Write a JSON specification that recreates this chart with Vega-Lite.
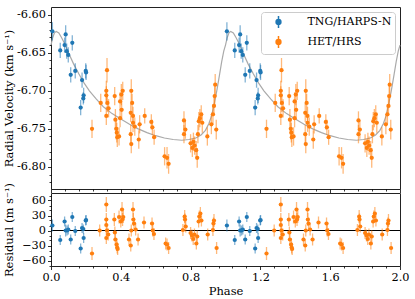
{
  "$schema": "https://vega.github.io/schema/vega-lite/v6.json",
  "padding": {"left": 3, "top": 6, "right": 4, "bottom": 0},
  "background": "white",
  "config": {
    "font": "DejaVu Serif",
    "view": {"stroke": "#222222", "strokeWidth": 1},
    "axis": {"grid": false, "domain": false, "tickColor": "#000000", "labelColor": "#000000", "titleColor": "#000000", "labelFont": "DejaVu Serif", "titleFont": "DejaVu Serif", "labelFontSize": 11.3, "titleFontSize": 11.5, "titleFontWeight": "normal", "tickSize": 3.5, "tickWidth": 0.8, "labelPadding": 2, "labelOverlap": false, "labelFlush": false}
  },
  "datasets": {
    "curve": [
      {"p":0.000,"v":-6.640},{"p":0.010,"v":-6.630},{"p":0.020,"v":-6.624},{"p":0.030,"v":-6.622},{"p":0.045,"v":-6.624},{"p":0.060,"v":-6.630},{"p":0.080,"v":-6.639},{"p":0.100,"v":-6.650},{"p":0.130,"v":-6.665},{"p":0.160,"v":-6.678},{"p":0.190,"v":-6.690},{"p":0.220,"v":-6.700},{"p":0.260,"v":-6.711},{"p":0.300,"v":-6.721},{"p":0.350,"v":-6.730},{"p":0.400,"v":-6.737},{"p":0.450,"v":-6.744},{"p":0.500,"v":-6.750},{"p":0.550,"v":-6.755},{"p":0.600,"v":-6.759},{"p":0.650,"v":-6.762},{"p":0.700,"v":-6.764},{"p":0.750,"v":-6.765},{"p":0.790,"v":-6.764},{"p":0.830,"v":-6.762},{"p":0.860,"v":-6.758},{"p":0.885,"v":-6.752},{"p":0.905,"v":-6.743},{"p":0.920,"v":-6.733},{"p":0.935,"v":-6.718},{"p":0.950,"v":-6.700},{"p":0.965,"v":-6.680},{"p":0.978,"v":-6.662},{"p":0.990,"v":-6.648},
      {"p":1.000,"v":-6.640},{"p":1.010,"v":-6.630},{"p":1.020,"v":-6.624},{"p":1.030,"v":-6.622},{"p":1.045,"v":-6.624},{"p":1.060,"v":-6.630},{"p":1.080,"v":-6.639},{"p":1.100,"v":-6.650},{"p":1.130,"v":-6.665},{"p":1.160,"v":-6.678},{"p":1.190,"v":-6.690},{"p":1.220,"v":-6.700},{"p":1.260,"v":-6.711},{"p":1.300,"v":-6.721},{"p":1.350,"v":-6.730},{"p":1.400,"v":-6.737},{"p":1.450,"v":-6.744},{"p":1.500,"v":-6.750},{"p":1.550,"v":-6.755},{"p":1.600,"v":-6.759},{"p":1.650,"v":-6.762},{"p":1.700,"v":-6.764},{"p":1.750,"v":-6.765},{"p":1.790,"v":-6.764},{"p":1.830,"v":-6.762},{"p":1.860,"v":-6.758},{"p":1.885,"v":-6.752},{"p":1.905,"v":-6.743},{"p":1.920,"v":-6.733},{"p":1.935,"v":-6.718},{"p":1.950,"v":-6.700},{"p":1.965,"v":-6.680},{"p":1.978,"v":-6.662},{"p":1.990,"v":-6.648},{"p":2.000,"v":-6.640}
    ],
    "top": [
      {"p":0.008,"v":-6.622,"e":0.012,"s":"TNG/HARPS-N"},{"p":0.053,"v":-6.647,"e":0.010,"s":"TNG/HARPS-N"},{"p":0.078,"v":-6.640,"e":0.010,"s":"TNG/HARPS-N"},{"p":0.084,"v":-6.626,"e":0.012,"s":"TNG/HARPS-N"},{"p":0.090,"v":-6.648,"e":0.010,"s":"TNG/HARPS-N"},{"p":0.099,"v":-6.653,"e":0.010,"s":"TNG/HARPS-N"},{"p":0.122,"v":-6.637,"e":0.010,"s":"TNG/HARPS-N"},{"p":0.113,"v":-6.679,"e":0.010,"s":"TNG/HARPS-N"},{"p":0.139,"v":-6.674,"e":0.010,"s":"TNG/HARPS-N"},{"p":0.178,"v":-6.686,"e":0.010,"s":"TNG/HARPS-N"},{"p":0.199,"v":-6.674,"e":0.010,"s":"TNG/HARPS-N"},{"p":0.201,"v":-6.676,"e":0.010,"s":"TNG/HARPS-N"},{"p":0.170,"v":-6.722,"e":0.010,"s":"TNG/HARPS-N"},{"p":0.187,"v":-6.706,"e":0.010,"s":"TNG/HARPS-N"},{"p":0.185,"v":-6.710,"e":0.008,"s":"TNG/HARPS-N"},
      {"p":1.008,"v":-6.622,"e":0.012,"s":"TNG/HARPS-N"},{"p":1.053,"v":-6.647,"e":0.010,"s":"TNG/HARPS-N"},{"p":1.078,"v":-6.640,"e":0.010,"s":"TNG/HARPS-N"},{"p":1.084,"v":-6.626,"e":0.012,"s":"TNG/HARPS-N"},{"p":1.090,"v":-6.648,"e":0.010,"s":"TNG/HARPS-N"},{"p":1.099,"v":-6.653,"e":0.010,"s":"TNG/HARPS-N"},{"p":1.122,"v":-6.637,"e":0.010,"s":"TNG/HARPS-N"},{"p":1.113,"v":-6.679,"e":0.010,"s":"TNG/HARPS-N"},{"p":1.139,"v":-6.674,"e":0.010,"s":"TNG/HARPS-N"},{"p":1.178,"v":-6.686,"e":0.010,"s":"TNG/HARPS-N"},{"p":1.199,"v":-6.674,"e":0.010,"s":"TNG/HARPS-N"},{"p":1.201,"v":-6.676,"e":0.010,"s":"TNG/HARPS-N"},{"p":1.170,"v":-6.722,"e":0.010,"s":"TNG/HARPS-N"},{"p":1.187,"v":-6.706,"e":0.010,"s":"TNG/HARPS-N"},{"p":1.185,"v":-6.710,"e":0.008,"s":"TNG/HARPS-N"},
      {"p":0.235,"v":-6.750,"e":0.012,"s":"HET/HRS"},{"p":0.285,"v":-6.716,"e":0.012,"s":"HET/HRS"},{"p":0.321,"v":-6.673,"e":0.016,"s":"HET/HRS"},{"p":0.317,"v":-6.700,"e":0.013,"s":"HET/HRS"},{"p":0.317,"v":-6.706,"e":0.012,"s":"HET/HRS"},{"p":0.323,"v":-6.716,"e":0.012,"s":"HET/HRS"},{"p":0.317,"v":-6.733,"e":0.012,"s":"HET/HRS"},{"p":0.330,"v":-6.723,"e":0.012,"s":"HET/HRS"},{"p":0.365,"v":-6.707,"e":0.012,"s":"HET/HRS"},{"p":0.369,"v":-6.738,"e":0.014,"s":"HET/HRS"},{"p":0.374,"v":-6.750,"e":0.014,"s":"HET/HRS"},{"p":0.377,"v":-6.755,"e":0.013,"s":"HET/HRS"},{"p":0.380,"v":-6.761,"e":0.013,"s":"HET/HRS"},{"p":0.390,"v":-6.760,"e":0.012,"s":"HET/HRS"},{"p":0.396,"v":-6.736,"e":0.012,"s":"HET/HRS"},{"p":0.396,"v":-6.714,"e":0.012,"s":"HET/HRS"},{"p":0.403,"v":-6.705,"e":0.014,"s":"HET/HRS"},{"p":0.405,"v":-6.725,"e":0.013,"s":"HET/HRS"},{"p":0.411,"v":-6.700,"e":0.012,"s":"HET/HRS"},{"p":0.460,"v":-6.700,"e":0.015,"s":"HET/HRS"},{"p":0.457,"v":-6.729,"e":0.012,"s":"HET/HRS"},{"p":0.465,"v":-6.716,"e":0.012,"s":"HET/HRS"},{"p":0.470,"v":-6.733,"e":0.012,"s":"HET/HRS"},{"p":0.470,"v":-6.742,"e":0.012,"s":"HET/HRS"},{"p":0.457,"v":-6.757,"e":0.012,"s":"HET/HRS"},{"p":0.460,"v":-6.770,"e":0.012,"s":"HET/HRS"},{"p":0.480,"v":-6.747,"e":0.012,"s":"HET/HRS"},{"p":0.503,"v":-6.764,"e":0.012,"s":"HET/HRS"},{"p":0.508,"v":-6.744,"e":0.012,"s":"HET/HRS"},{"p":0.537,"v":-6.733,"e":0.010,"s":"HET/HRS"},{"p":0.575,"v":-6.741,"e":0.010,"s":"HET/HRS"},{"p":0.581,"v":-6.748,"e":0.010,"s":"HET/HRS"},{"p":0.591,"v":-6.761,"e":0.010,"s":"HET/HRS"},{"p":0.651,"v":-6.786,"e":0.012,"s":"HET/HRS"},{"p":0.665,"v":-6.788,"e":0.014,"s":"HET/HRS"},{"p":0.674,"v":-6.796,"e":0.013,"s":"HET/HRS"},{"p":0.762,"v":-6.739,"e":0.012,"s":"HET/HRS"},{"p":0.770,"v":-6.751,"e":0.012,"s":"HET/HRS"},{"p":0.762,"v":-6.757,"e":0.012,"s":"HET/HRS"},{"p":0.800,"v":-6.769,"e":0.012,"s":"HET/HRS"},{"p":0.810,"v":-6.775,"e":0.012,"s":"HET/HRS"},{"p":0.816,"v":-6.767,"e":0.012,"s":"HET/HRS"},{"p":0.823,"v":-6.772,"e":0.012,"s":"HET/HRS"},{"p":0.832,"v":-6.778,"e":0.012,"s":"HET/HRS"},{"p":0.838,"v":-6.788,"e":0.013,"s":"HET/HRS"},{"p":0.842,"v":-6.757,"e":0.012,"s":"HET/HRS"},{"p":0.847,"v":-6.740,"e":0.012,"s":"HET/HRS"},{"p":0.853,"v":-6.736,"e":0.012,"s":"HET/HRS"},{"p":0.861,"v":-6.731,"e":0.012,"s":"HET/HRS"},{"p":0.867,"v":-6.742,"e":0.013,"s":"HET/HRS"},{"p":0.896,"v":-6.760,"e":0.012,"s":"HET/HRS"},{"p":0.919,"v":-6.744,"e":0.013,"s":"HET/HRS"},{"p":0.928,"v":-6.731,"e":0.013,"s":"HET/HRS"},{"p":0.934,"v":-6.720,"e":0.013,"s":"HET/HRS"},{"p":0.938,"v":-6.707,"e":0.013,"s":"HET/HRS"},{"p":0.947,"v":-6.751,"e":0.013,"s":"HET/HRS"},{"p":0.941,"v":-6.692,"e":0.014,"s":"HET/HRS"},
      {"p":1.235,"v":-6.750,"e":0.012,"s":"HET/HRS"},{"p":1.285,"v":-6.716,"e":0.012,"s":"HET/HRS"},{"p":1.321,"v":-6.673,"e":0.016,"s":"HET/HRS"},{"p":1.317,"v":-6.700,"e":0.013,"s":"HET/HRS"},{"p":1.317,"v":-6.706,"e":0.012,"s":"HET/HRS"},{"p":1.323,"v":-6.716,"e":0.012,"s":"HET/HRS"},{"p":1.317,"v":-6.733,"e":0.012,"s":"HET/HRS"},{"p":1.330,"v":-6.723,"e":0.012,"s":"HET/HRS"},{"p":1.365,"v":-6.707,"e":0.012,"s":"HET/HRS"},{"p":1.369,"v":-6.738,"e":0.014,"s":"HET/HRS"},{"p":1.374,"v":-6.750,"e":0.014,"s":"HET/HRS"},{"p":1.377,"v":-6.755,"e":0.013,"s":"HET/HRS"},{"p":1.380,"v":-6.761,"e":0.013,"s":"HET/HRS"},{"p":1.390,"v":-6.760,"e":0.012,"s":"HET/HRS"},{"p":1.396,"v":-6.736,"e":0.012,"s":"HET/HRS"},{"p":1.396,"v":-6.714,"e":0.012,"s":"HET/HRS"},{"p":1.403,"v":-6.705,"e":0.014,"s":"HET/HRS"},{"p":1.405,"v":-6.725,"e":0.013,"s":"HET/HRS"},{"p":1.411,"v":-6.700,"e":0.012,"s":"HET/HRS"},{"p":1.460,"v":-6.700,"e":0.015,"s":"HET/HRS"},{"p":1.457,"v":-6.729,"e":0.012,"s":"HET/HRS"},{"p":1.465,"v":-6.716,"e":0.012,"s":"HET/HRS"},{"p":1.470,"v":-6.733,"e":0.012,"s":"HET/HRS"},{"p":1.470,"v":-6.742,"e":0.012,"s":"HET/HRS"},{"p":1.457,"v":-6.757,"e":0.012,"s":"HET/HRS"},{"p":1.460,"v":-6.770,"e":0.012,"s":"HET/HRS"},{"p":1.480,"v":-6.747,"e":0.012,"s":"HET/HRS"},{"p":1.503,"v":-6.764,"e":0.012,"s":"HET/HRS"},{"p":1.508,"v":-6.744,"e":0.012,"s":"HET/HRS"},{"p":1.537,"v":-6.733,"e":0.010,"s":"HET/HRS"},{"p":1.575,"v":-6.741,"e":0.010,"s":"HET/HRS"},{"p":1.581,"v":-6.748,"e":0.010,"s":"HET/HRS"},{"p":1.591,"v":-6.761,"e":0.010,"s":"HET/HRS"},{"p":1.651,"v":-6.786,"e":0.012,"s":"HET/HRS"},{"p":1.665,"v":-6.788,"e":0.014,"s":"HET/HRS"},{"p":1.674,"v":-6.796,"e":0.013,"s":"HET/HRS"},{"p":1.762,"v":-6.739,"e":0.012,"s":"HET/HRS"},{"p":1.770,"v":-6.751,"e":0.012,"s":"HET/HRS"},{"p":1.762,"v":-6.757,"e":0.012,"s":"HET/HRS"},{"p":1.800,"v":-6.769,"e":0.012,"s":"HET/HRS"},{"p":1.810,"v":-6.775,"e":0.012,"s":"HET/HRS"},{"p":1.816,"v":-6.767,"e":0.012,"s":"HET/HRS"},{"p":1.823,"v":-6.772,"e":0.012,"s":"HET/HRS"},{"p":1.832,"v":-6.778,"e":0.012,"s":"HET/HRS"},{"p":1.838,"v":-6.788,"e":0.013,"s":"HET/HRS"},{"p":1.842,"v":-6.757,"e":0.012,"s":"HET/HRS"},{"p":1.847,"v":-6.740,"e":0.012,"s":"HET/HRS"},{"p":1.853,"v":-6.736,"e":0.012,"s":"HET/HRS"},{"p":1.861,"v":-6.731,"e":0.012,"s":"HET/HRS"},{"p":1.867,"v":-6.742,"e":0.013,"s":"HET/HRS"},{"p":1.896,"v":-6.760,"e":0.012,"s":"HET/HRS"},{"p":1.919,"v":-6.744,"e":0.013,"s":"HET/HRS"},{"p":1.928,"v":-6.731,"e":0.013,"s":"HET/HRS"},{"p":1.934,"v":-6.720,"e":0.013,"s":"HET/HRS"},{"p":1.938,"v":-6.707,"e":0.013,"s":"HET/HRS"},{"p":1.947,"v":-6.751,"e":0.013,"s":"HET/HRS"},{"p":1.941,"v":-6.692,"e":0.014,"s":"HET/HRS"}
    ],
    "res": [
      {"p":0.008,"r":10,"e":12,"s":"TNG/HARPS-N"},{"p":0.053,"r":-19,"e":10,"s":"TNG/HARPS-N"},{"p":0.078,"r":18,"e":10,"s":"TNG/HARPS-N"},{"p":0.084,"r":0,"e":12,"s":"TNG/HARPS-N"},{"p":0.092,"r":0,"e":10,"s":"TNG/HARPS-N"},{"p":0.099,"r":2,"e":10,"s":"TNG/HARPS-N"},{"p":0.113,"r":-18,"e":10,"s":"TNG/HARPS-N"},{"p":0.122,"r":27,"e":10,"s":"TNG/HARPS-N"},{"p":0.139,"r":-1,"e":10,"s":"TNG/HARPS-N"},{"p":0.170,"r":-36,"e":10,"s":"TNG/HARPS-N"},{"p":0.178,"r":5,"e":10,"s":"TNG/HARPS-N"},{"p":0.185,"r":3,"e":9,"s":"TNG/HARPS-N"},{"p":0.187,"r":-15,"e":10,"s":"TNG/HARPS-N"},{"p":0.199,"r":20,"e":10,"s":"TNG/HARPS-N"},{"p":0.201,"r":21,"e":10,"s":"TNG/HARPS-N"},
      {"p":1.008,"r":10,"e":12,"s":"TNG/HARPS-N"},{"p":1.053,"r":-19,"e":10,"s":"TNG/HARPS-N"},{"p":1.078,"r":18,"e":10,"s":"TNG/HARPS-N"},{"p":1.084,"r":0,"e":12,"s":"TNG/HARPS-N"},{"p":1.092,"r":0,"e":10,"s":"TNG/HARPS-N"},{"p":1.099,"r":2,"e":10,"s":"TNG/HARPS-N"},{"p":1.113,"r":-18,"e":10,"s":"TNG/HARPS-N"},{"p":1.122,"r":27,"e":10,"s":"TNG/HARPS-N"},{"p":1.139,"r":-1,"e":10,"s":"TNG/HARPS-N"},{"p":1.170,"r":-36,"e":10,"s":"TNG/HARPS-N"},{"p":1.178,"r":5,"e":10,"s":"TNG/HARPS-N"},{"p":1.185,"r":3,"e":9,"s":"TNG/HARPS-N"},{"p":1.187,"r":-15,"e":10,"s":"TNG/HARPS-N"},{"p":1.199,"r":20,"e":10,"s":"TNG/HARPS-N"},{"p":1.201,"r":21,"e":10,"s":"TNG/HARPS-N"},
      {"p":0.235,"r":-46,"e":13,"s":"HET/HRS"},{"p":0.279,"r":0,"e":12,"s":"HET/HRS"},{"p":0.317,"r":52,"e":15,"s":"HET/HRS"},{"p":0.317,"r":22,"e":13,"s":"HET/HRS"},{"p":0.317,"r":11,"e":12,"s":"HET/HRS"},{"p":0.321,"r":0,"e":12,"s":"HET/HRS"},{"p":0.317,"r":-15,"e":12,"s":"HET/HRS"},{"p":0.328,"r":-8,"e":12,"s":"HET/HRS"},{"p":0.363,"r":22,"e":13,"s":"HET/HRS"},{"p":0.366,"r":-4,"e":12,"s":"HET/HRS"},{"p":0.369,"r":-18,"e":13,"s":"HET/HRS"},{"p":0.376,"r":-28,"e":13,"s":"HET/HRS"},{"p":0.379,"r":-34,"e":12,"s":"HET/HRS"},{"p":0.382,"r":-37,"e":12,"s":"HET/HRS"},{"p":0.390,"r":27,"e":13,"s":"HET/HRS"},{"p":0.400,"r":18,"e":12,"s":"HET/HRS"},{"p":0.407,"r":42,"e":15,"s":"HET/HRS"},{"p":0.410,"r":22,"e":13,"s":"HET/HRS"},{"p":0.414,"r":27,"e":12,"s":"HET/HRS"},{"p":0.447,"r":-18,"e":12,"s":"HET/HRS"},{"p":0.457,"r":-30,"e":12,"s":"HET/HRS"},{"p":0.460,"r":0,"e":12,"s":"HET/HRS"},{"p":0.470,"r":42,"e":15,"s":"HET/HRS"},{"p":0.472,"r":22,"e":13,"s":"HET/HRS"},{"p":0.476,"r":14,"e":12,"s":"HET/HRS"},{"p":0.485,"r":2,"e":12,"s":"HET/HRS"},{"p":0.499,"r":-18,"e":12,"s":"HET/HRS"},{"p":0.533,"r":16,"e":12,"s":"HET/HRS"},{"p":0.579,"r":14,"e":12,"s":"HET/HRS"},{"p":0.583,"r":0,"e":12,"s":"HET/HRS"},{"p":0.590,"r":-7,"e":12,"s":"HET/HRS"},{"p":0.657,"r":-26,"e":12,"s":"HET/HRS"},{"p":0.665,"r":-28,"e":12,"s":"HET/HRS"},{"p":0.674,"r":-35,"e":12,"s":"HET/HRS"},{"p":0.756,"r":1,"e":12,"s":"HET/HRS"},{"p":0.766,"r":28,"e":13,"s":"HET/HRS"},{"p":0.768,"r":22,"e":12,"s":"HET/HRS"},{"p":0.772,"r":8,"e":12,"s":"HET/HRS"},{"p":0.800,"r":-5,"e":12,"s":"HET/HRS"},{"p":0.808,"r":-10,"e":12,"s":"HET/HRS"},{"p":0.815,"r":-17,"e":12,"s":"HET/HRS"},{"p":0.822,"r":-8,"e":12,"s":"HET/HRS"},{"p":0.833,"r":-26,"e":12,"s":"HET/HRS"},{"p":0.838,"r":-12,"e":12,"s":"HET/HRS"},{"p":0.846,"r":18,"e":12,"s":"HET/HRS"},{"p":0.850,"r":28,"e":12,"s":"HET/HRS"},{"p":0.856,"r":34,"e":13,"s":"HET/HRS"},{"p":0.862,"r":20,"e":12,"s":"HET/HRS"},{"p":0.898,"r":-8,"e":12,"s":"HET/HRS"},{"p":0.928,"r":1,"e":12,"s":"HET/HRS"},{"p":0.931,"r":14,"e":12,"s":"HET/HRS"},{"p":0.934,"r":20,"e":13,"s":"HET/HRS"},{"p":0.949,"r":-35,"e":12,"s":"HET/HRS"},
      {"p":1.235,"r":-46,"e":13,"s":"HET/HRS"},{"p":1.279,"r":0,"e":12,"s":"HET/HRS"},{"p":1.317,"r":52,"e":15,"s":"HET/HRS"},{"p":1.317,"r":22,"e":13,"s":"HET/HRS"},{"p":1.317,"r":11,"e":12,"s":"HET/HRS"},{"p":1.321,"r":0,"e":12,"s":"HET/HRS"},{"p":1.317,"r":-15,"e":12,"s":"HET/HRS"},{"p":1.328,"r":-8,"e":12,"s":"HET/HRS"},{"p":1.363,"r":22,"e":13,"s":"HET/HRS"},{"p":1.366,"r":-4,"e":12,"s":"HET/HRS"},{"p":1.369,"r":-18,"e":13,"s":"HET/HRS"},{"p":1.376,"r":-28,"e":13,"s":"HET/HRS"},{"p":1.379,"r":-34,"e":12,"s":"HET/HRS"},{"p":1.382,"r":-37,"e":12,"s":"HET/HRS"},{"p":1.390,"r":27,"e":13,"s":"HET/HRS"},{"p":1.400,"r":18,"e":12,"s":"HET/HRS"},{"p":1.407,"r":42,"e":15,"s":"HET/HRS"},{"p":1.410,"r":22,"e":13,"s":"HET/HRS"},{"p":1.414,"r":27,"e":12,"s":"HET/HRS"},{"p":1.447,"r":-18,"e":12,"s":"HET/HRS"},{"p":1.457,"r":-30,"e":12,"s":"HET/HRS"},{"p":1.460,"r":0,"e":12,"s":"HET/HRS"},{"p":1.470,"r":42,"e":15,"s":"HET/HRS"},{"p":1.472,"r":22,"e":13,"s":"HET/HRS"},{"p":1.476,"r":14,"e":12,"s":"HET/HRS"},{"p":1.485,"r":2,"e":12,"s":"HET/HRS"},{"p":1.499,"r":-18,"e":12,"s":"HET/HRS"},{"p":1.533,"r":16,"e":12,"s":"HET/HRS"},{"p":1.579,"r":14,"e":12,"s":"HET/HRS"},{"p":1.583,"r":0,"e":12,"s":"HET/HRS"},{"p":1.590,"r":-7,"e":12,"s":"HET/HRS"},{"p":1.657,"r":-26,"e":12,"s":"HET/HRS"},{"p":1.665,"r":-28,"e":12,"s":"HET/HRS"},{"p":1.674,"r":-35,"e":12,"s":"HET/HRS"},{"p":1.756,"r":1,"e":12,"s":"HET/HRS"},{"p":1.766,"r":28,"e":13,"s":"HET/HRS"},{"p":1.768,"r":22,"e":12,"s":"HET/HRS"},{"p":1.772,"r":8,"e":12,"s":"HET/HRS"},{"p":1.800,"r":-5,"e":12,"s":"HET/HRS"},{"p":1.808,"r":-10,"e":12,"s":"HET/HRS"},{"p":1.815,"r":-17,"e":12,"s":"HET/HRS"},{"p":1.822,"r":-8,"e":12,"s":"HET/HRS"},{"p":1.833,"r":-26,"e":12,"s":"HET/HRS"},{"p":1.838,"r":-12,"e":12,"s":"HET/HRS"},{"p":1.846,"r":18,"e":12,"s":"HET/HRS"},{"p":1.850,"r":28,"e":12,"s":"HET/HRS"},{"p":1.856,"r":34,"e":13,"s":"HET/HRS"},{"p":1.862,"r":20,"e":12,"s":"HET/HRS"},{"p":1.898,"r":-8,"e":12,"s":"HET/HRS"},{"p":1.928,"r":1,"e":12,"s":"HET/HRS"},{"p":1.931,"r":14,"e":12,"s":"HET/HRS"},{"p":1.934,"r":20,"e":13,"s":"HET/HRS"},{"p":1.949,"r":-35,"e":12,"s":"HET/HRS"}
    ]
  },
  "spacing": 4,
  "bounds": "flush",
  "resolve": {"scale": {"x": "independent", "y": "independent", "color": "shared"}, "axis": {"x": "independent", "y": "independent"}, "legend": {"color": "independent"}},
  "vconcat": [
    {
      "width": 349,
      "height": 182,
      "resolve": {"axis": {"x": "independent", "y": "independent"}},
      "layer": [
        {
          "data": {"name": "curve"},
          "mark": {"type": "line", "color": "#aaaaaa", "strokeWidth": 1.2},
          "encoding": {
            "x": {"field": "p", "type": "quantitative", "scale": {"domain": [0, 2], "nice": false},
              "axis": {"title": null, "labels": false, "orient": "bottom", "values": [0, 0.4, 0.8, 1.2, 1.6, 2.0]}},
            "y": {"field": "v", "type": "quantitative", "scale": {"domain": [-6.829, -6.59], "nice": false, "zero": false},
              "axis": {"title": "Radial Velocity (km s⁻¹)", "orient": "left", "titlePadding": 2, "values": [-6.8, -6.75, -6.7, -6.65, -6.6],
                "labelExpr": "replace(format(datum.value, '.2f'), '−', '-')"}}
          }
        },
        {
          "data": {"name": "top"},
          "mark": {"type": "errorbar", "thickness": 1.3, "opacity": 0.55},
          "encoding": {
            "x": {"field": "p", "type": "quantitative",
              "axis": {"title": null, "labels": false, "orient": "bottom", "tickSize": 2, "values": [0.08,0.16,0.24,0.32,0.48,0.56,0.64,0.72,0.88,0.96,1.04,1.12,1.28,1.36,1.44,1.52,1.68,1.76,1.84,1.92]}},
            "y": {"field": "v", "type": "quantitative",
              "axis": {"title": null, "labels": false, "orient": "left", "tickSize": 2, "values": [-6.82,-6.81,-6.79,-6.78,-6.77,-6.76,-6.74,-6.73,-6.72,-6.71,-6.69,-6.68,-6.67,-6.66,-6.64,-6.63,-6.62,-6.61]}},
            "yError": {"field": "e"},
            "color": {"field": "s", "type": "nominal", "scale": {"domain": ["TNG/HARPS-N", "HET/HRS"], "range": ["#1f77b4", "#ff7f0e"]},
              "legend": {"title": null, "orient": "top-right", "offset": 5, "padding": 3, "symbolOffset": 7.5, "labelOffset": 22, "rowPadding": 2,
                "symbolSize": 144, "symbolType": "M0,-1V1M0.4,0A0.4,0.4,0,1,1,-0.4,0A0.4,0.4,0,1,1,0.4,0", "symbolStrokeWidth": 1.5, "symbolOpacity": 1,
                "labelFont": "DejaVu Serif", "labelFontSize": 11, "labelColor": "#000000", "strokeColor": "#cccccc", "fillColor": "rgba(255,255,255,0.85)", "cornerRadius": 3}}
          }
        },
        {
          "data": {"name": "top"},
          "mark": {"type": "point", "filled": true, "size": 18, "opacity": 1},
          "encoding": {
            "x": {"field": "p", "type": "quantitative", "axis": null},
            "y": {"field": "v", "type": "quantitative", "axis": null},
            "color": {"field": "s", "type": "nominal", "scale": {"domain": ["TNG/HARPS-N", "HET/HRS"], "range": ["#1f77b4", "#ff7f0e"]},
              "legend": {"title": null, "orient": "top-right", "offset": 5, "padding": 3, "symbolOffset": 7.5, "labelOffset": 22, "rowPadding": 2,
                "symbolSize": 144, "symbolType": "M0,-1V1M0.4,0A0.4,0.4,0,1,1,-0.4,0A0.4,0.4,0,1,1,0.4,0", "symbolStrokeWidth": 1.5, "symbolOpacity": 1,
                "labelFont": "DejaVu Serif", "labelFontSize": 11, "labelColor": "#000000", "strokeColor": "#cccccc", "fillColor": "rgba(255,255,255,0.85)", "cornerRadius": 3}}
          }
        }
      ]
    },
    {
      "width": 349,
      "height": 73,
      "resolve": {"axis": {"x": "independent", "y": "independent"}},
      "layer": [
        {
          "data": {"values": [{"z": 0}]},
          "mark": {"type": "rule", "color": "#000000", "strokeWidth": 1.2},
          "encoding": {
            "y": {"field": "z", "type": "quantitative", "scale": {"domain": [-71, 75], "nice": false},
              "axis": {"title": "Residual (m s⁻¹)", "orient": "left", "titlePadding": 7, "values": [-60, -30, 0, 30, 60], "format": "d"}}
          }
        },
        {
          "data": {"name": "res"},
          "mark": {"type": "errorbar", "thickness": 1.3, "opacity": 0.55},
          "encoding": {
            "x": {"field": "p", "type": "quantitative", "scale": {"domain": [0, 2], "nice": false},
              "axis": {"title": "Phase", "orient": "bottom", "titlePadding": 3, "values": [0, 0.4, 0.8, 1.2, 1.6, 2.0], "format": ".1f"}},
            "y": {"field": "r", "type": "quantitative",
              "axis": {"title": null, "labels": false, "orient": "left", "tickSize": 2, "values": [-70,-50,-40,-20,-10,10,20,40,50,70]}},
            "yError": {"field": "e"},
            "color": {"field": "s", "type": "nominal", "legend": null}
          }
        },
        {
          "data": {"name": "res"},
          "mark": {"type": "point", "filled": true, "size": 18, "opacity": 1},
          "encoding": {
            "x": {"field": "p", "type": "quantitative",
              "axis": {"title": null, "labels": false, "orient": "bottom", "tickSize": 2, "values": [0.08,0.16,0.24,0.32,0.48,0.56,0.64,0.72,0.88,0.96,1.04,1.12,1.28,1.36,1.44,1.52,1.68,1.76,1.84,1.92]}},
            "y": {"field": "r", "type": "quantitative", "axis": null},
            "color": {"field": "s", "type": "nominal", "legend": null}
          }
        }
      ]
    }
  ]
}
